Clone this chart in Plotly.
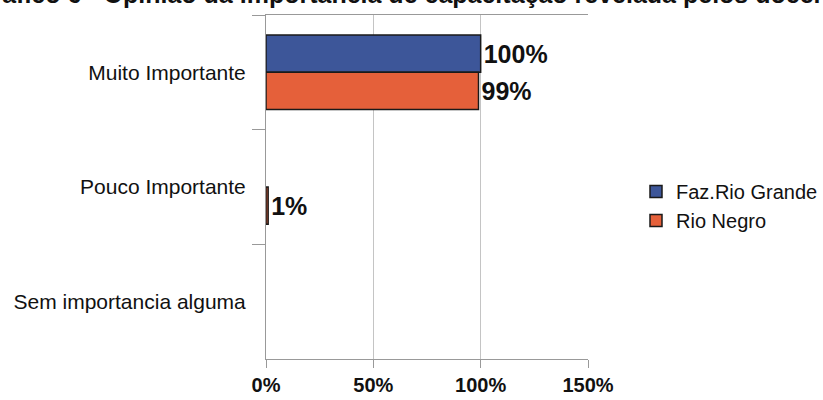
import plotly.graph_objects as go

categories = ["Muito Importante", "Pouco Importante", "Sem importancia alguma"]
faz_rio_grande = [100, None, None]
rio_negro = [99, 1, None]
x_ticks = [0, 50, 100, 150]
x_tick_labels = ["0%", "50%", "100%", "150%"]
title_text = "Gráfico 6 - Opinião da importância de capacitação revelada pelos docentes"

FONT = "Liberation Sans, Arial"
PLOT_L, PLOT_R, PLOT_T, PLOT_B = 266, 588, 15, 359
PW, PH = PLOT_R - PLOT_L, PLOT_B - PLOT_T


def px_x(p):
    return (p - PLOT_L) / PW


def px_y(p):
    return 1 - (p - PLOT_T) / PH


def labels(vals):
    return ["" if v is None else f"{v}%" for v in vals]


fig = go.Figure()
for name, vals, color in [("Faz.Rio Grande", faz_rio_grande, "#3d5699"),
                          ("Rio Negro", rio_negro, "#e5603a")]:
    fig.add_trace(go.Bar(
        name=name, y=categories, x=vals, orientation="h",
        marker=dict(color=color, line=dict(color="#1a1a1a", width=1.5)),
        text=labels(vals), textposition="outside", cliponaxis=False,
        constraintext="none",
        textfont=dict(family=FONT, size=25, color="#111", weight="bold"),
    ))

fig.update_layout(
    width=823, height=400,
    margin=dict(l=PLOT_L, r=823 - PLOT_R, t=PLOT_T, b=400 - PLOT_B, autoexpand=False),
    paper_bgcolor="white", plot_bgcolor="white",
    barmode="group", bargap=0.35, bargroupgap=0,
    font=dict(family=FONT, size=21, color="#111"),
    legend=dict(x=px_x(636), y=px_y(206), xanchor="left", yanchor="middle",
                font=dict(size=20), tracegroupgap=0, bgcolor="rgba(0,0,0,0)"),
    showlegend=True,
)
fig.update_xaxes(
    range=[0, 150], tickvals=x_ticks, ticktext=x_tick_labels,
    showgrid=True, gridcolor="#c4c4c4", gridwidth=1,
    showline=True, linecolor="#999", mirror=True,
    ticks="outside", ticklen=8, tickcolor="#999",
    tickfont=dict(size=20, family=FONT, weight="bold"), ticklabelstandoff=0,
    zeroline=False,
)
fig.update_yaxes(
    autorange="reversed", showline=True, linecolor="#999",
    ticks="outside", ticklen=13, tickcolor="#999", tickson="boundaries",
    showgrid=False, tickfont=dict(size=21), ticklabelstandoff=15,
)

fig.add_annotation(
    text=f"<b>{title_text}</b>", xref="paper", yref="paper",
    x=px_x(-29), y=px_y(-6), xanchor="left", yanchor="middle",
    showarrow=False, font=dict(size=25, family=FONT, color="#111"),
)

fig.write_html("out.html")
